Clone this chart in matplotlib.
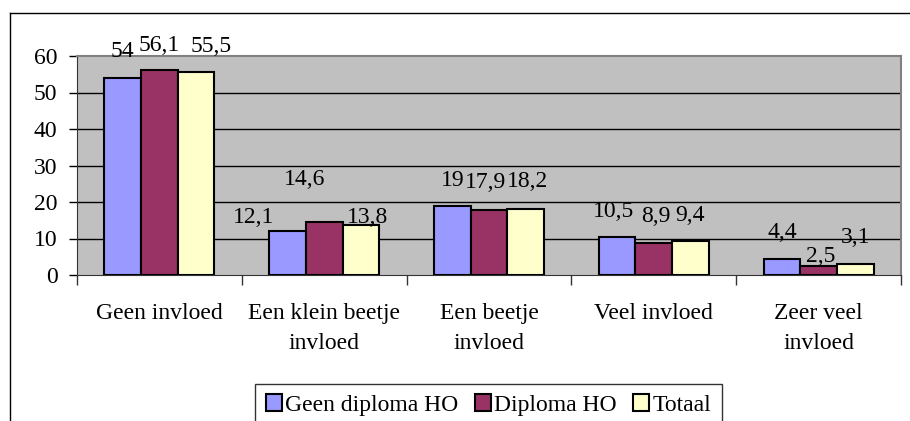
import matplotlib
matplotlib.use("Agg")
import matplotlib.pyplot as plt
import numpy as np
from matplotlib.lines import Line2D
from matplotlib.patches import Patch

categories = ["Geen invloed", "Een klein beetje\ninvloed", "Een beetje\ninvloed",
              "Veel invloed", "Zeer veel\ninvloed"]
series_names = ["Geen diploma HO", "Diploma HO", "Totaal"]
geen_diploma = [54, 12.1, 19, 10.5, 4.4]
diploma = [56.1, 14.6, 17.9, 8.9, 2.5]
totaal = [55.5, 13.8, 18.2, 9.4, 3.1]
y_ticks = [0, 10, 20, 30, 40, 50, 60]

colors = ["#9999FF", "#993366", "#FFFFCC"]
# label offsets in pixels (dx, dy) from bar top, per series / category
label_offsets = [
    [(0, 26), (-34, 13), (0, 25), (-4, 25), (0, 26)],
    [(0, 25), (-20, 42), (-3, 27), (2, 26), (2, 9)],
    [(15, 26), (7, 7), (2, 27), (0, 25), (0, 26)],
]
FS = 17

plt.rcParams["font.family"] = ["Liberation Serif", "DejaVu Serif"]
fig = plt.figure(figsize=(9.1, 4.21), dpi=100)
ax = fig.add_axes([77 / 910, 1 - 275 / 421, 824 / 910, 219 / 421])
ax.set_facecolor("#C0C0C0")

x = np.arange(len(categories))
w = 1 / 4.5
for i, vals in enumerate([geen_diploma, diploma, totaal]):
    xs = x + (i - 1) * w
    ax.bar(xs, vals, width=w, color=colors[i], edgecolor="black", linewidth=1.5, zorder=3)
    for j, v in enumerate(vals):
        dx, dy = label_offsets[i][j]
        ax.annotate(f"{v:g}".replace(".", ","), (xs[j], v), xytext=(dx, dy),
                    textcoords="offset pixels", ha="center", va="center", fontsize=FS,
                    zorder=4)

ax.set_xlim(-0.5, len(categories) - 0.5)
ax.set_ylim(0, 60)
ax.set_yticks(y_ticks)
ax.tick_params(axis="y", labelsize=FS, length=6, width=1, direction="out", pad=8)
for yv in y_ticks[1:-1]:
    ax.axhline(yv, color="black", lw=1, zorder=1)

ax.set_xticks(x)
ax.set_xticklabels(categories, fontsize=FS, linespacing=1.6)
ax.tick_params(axis="x", length=0, pad=20)
ax.set_xticks(np.arange(-0.5, len(categories)), minor=True)
ax.tick_params(axis="x", which="minor", length=7, width=1, direction="out", color="#333333")

for side in ["top", "right"]:
    ax.spines[side].set_color("#808080")
    ax.spines[side].set_linewidth(1.5)
ax.spines["left"].set_color("#333333")
ax.spines["bottom"].set_color("#333333")

handles = [Patch(facecolor=c, edgecolor="black", linewidth=1.5) for c in colors]
leg = fig.legend(handles, series_names, loc="center", bbox_to_anchor=(488.5 / 910, 1 - 405 / 421),
                 ncol=3, fontsize=FS, frameon=True, fancybox=False, edgecolor="black",
                 handlelength=0.68, handleheight=0.68, handletextpad=0.15, columnspacing=0.68,
                 borderpad=0.45, borderaxespad=0)
leg.get_frame().set_linewidth(1)

# outer chart frame (runs off the right and bottom edges)
fig.add_artist(Line2D([10 / 910, 1.0], [1 - 13 / 421] * 2, color="black", lw=1))
fig.add_artist(Line2D([10 / 910] * 2, [0, 1 - 13 / 421], color="black", lw=1))

fig.savefig("out.png", dpi=100)
